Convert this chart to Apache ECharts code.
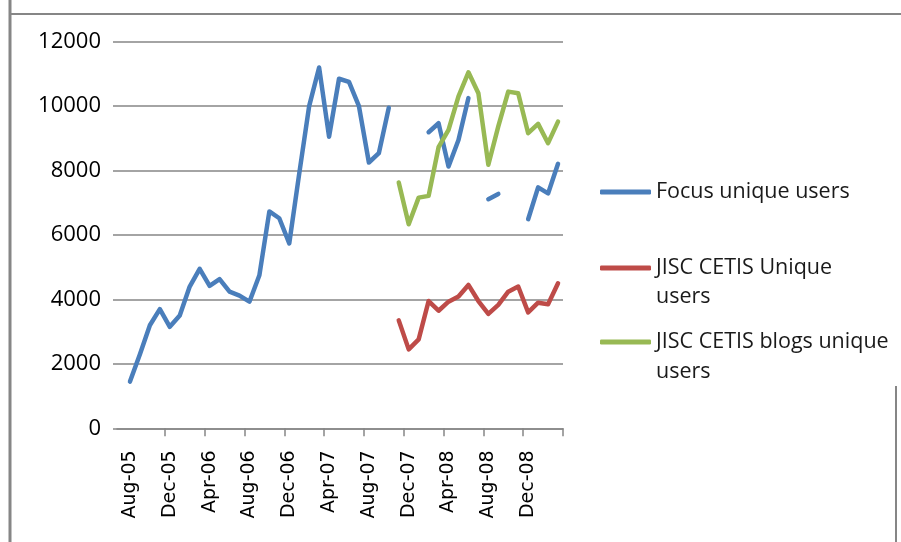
<!DOCTYPE html>
<html>
<head>
<meta charset="utf-8">
<script src="https://cdn.jsdelivr.net/npm/echarts@6/dist/echarts.min.js"></script>
<style>
html,body{margin:0;padding:0;background:#fff;}
#chart{width:901px;height:542px;}
</style>
</head>
<body>
<div id="chart"></div>
<script>
var months = ['Aug-05','Sep-05','Oct-05','Nov-05','Dec-05','Jan-06','Feb-06','Mar-06','Apr-06','May-06','Jun-06','Jul-06',
  'Aug-06','Sep-06','Oct-06','Nov-06','Dec-06','Jan-07','Feb-07','Mar-07','Apr-07','May-07','Jun-07','Jul-07',
  'Aug-07','Sep-07','Oct-07','Nov-07','Dec-07','Jan-08','Feb-08','Mar-08','Apr-08','May-08','Jun-08','Jul-08',
  'Aug-08','Sep-08','Oct-08','Nov-08','Dec-08','Jan-09','Feb-09','Mar-09'];

var focusUsers = [1450,2300,3200,3700,3150,3500,4400,4950,4420,4630,4240,4120,
  3930,4750,6730,6520,5740,7900,10000,11200,9050,10850,10750,10000,
  8250,8540,9950,null,null,null,9190,9470,8125,8950,10250,null,
  7110,7275,null,null,6490,7480,7290,8210];

var cetisUsers = [null,null,null,null,null,null,null,null,null,null,null,null,
  null,null,null,null,null,null,null,null,null,null,null,null,
  null,null,null,3350,2450,2760,3950,3650,3930,4090,4450,3950,
  3550,3830,4240,4400,3600,3900,3850,4500];

var blogUsers = [null,null,null,null,null,null,null,null,null,null,null,null,
  null,null,null,null,null,null,null,null,null,null,null,null,
  null,null,null,7630,6335,7160,7215,8725,9265,10300,11050,10400,
  8180,9370,10450,10400,9160,9450,8850,9520];

var yTicks = [0,2000,4000,6000,8000,10000,12000];

var seriesNames = ['Focus unique users','JISC CETIS Unique users','JISC CETIS blogs unique users'];
var legendLines = [['Focus unique users'],['JISC CETIS Unique','users'],['JISC CETIS blogs unique','users']];
var colors = ['#4A7EBB','#BE4B48','#98B954'];

var chart = echarts.init(document.getElementById('chart'), null, {renderer:'canvas'});
var gray = '#868686';
var legendFont = {fontFamily:'Open Sans', fontSize:21.5, color:'#1a1a1a'};

function legendFor(i, top, lh){
  var lines = legendLines[i];
  return {
    show:true, orient:'vertical', left:600, top:top, padding:0,
    data:[seriesNames[i]], icon:'roundRect', itemWidth:51, itemHeight:5, itemGap:0,
    selectedMode:false,
    formatter: function(){
      // empty first line keeps the first text line level with the line sample
      return lines.length > 1 ? ' \n' + lines.join('\n') : lines[0];
    },
    textStyle: Object.assign({}, legendFont, {lineHeight:lh})
  };
}

var option = {
  animation:false,
  backgroundColor:'#fff',
  color: colors,
  grid:[
    {left:117, right:338, top:41.7, bottom:113.7},
    {left:125, right:338, top:41.7, bottom:113.7}
  ],
  xAxis:[
    {gridIndex:0, type:'value', min:0, max:1, axisLine:{show:true, onZero:false, lineStyle:{color:gray, width:1.5}},
     axisTick:{show:false}, axisLabel:{show:false}, splitLine:{show:false}},
    {gridIndex:1, type:'category', data:months, boundaryGap:true,
     axisLine:{show:false},
     axisTick:{show:true, length:8, lineStyle:{color:gray, width:1.5},
       interval:function(idx){ return idx % 4 === 0 && idx !== 0; }},
     axisLabel:{show:true, rotate:90, interval:3, margin:22, fontFamily:'DejaVu Sans', fontSize:19, color:'#000'},
     splitLine:{show:false}}
  ],
  yAxis:[
    {gridIndex:0, type:'value', min:0, max:12000, interval:2000,
     axisLine:{show:false}, axisTick:{show:true, length:4, lineStyle:{color:gray, width:1.5}},
     axisLabel:{margin:16, fontFamily:'Open Sans', fontSize:22, color:'#000',
       formatter:function(v){ return String(v); }},
     splitLine:{show:true, lineStyle:{color:gray, width:1.5}}},
    {gridIndex:1, type:'value', min:0, max:12000, interval:2000, show:false, splitLine:{show:false}}
  ],
  legend:[
    legendFor(0, 177.5, 29),
    legendFor(1, 224.5, 29),
    legendFor(2, 297, 30)
  ],
  graphic:[
    {type:'line', shape:{x1:10, y1:0, x2:10, y2:542}, style:{stroke:gray, lineWidth:3}, silent:true},
    {type:'line', shape:{x1:10, y1:14, x2:901, y2:14}, style:{stroke:gray, lineWidth:2}, silent:true},
    {type:'line', shape:{x1:896, y1:386, x2:896, y2:542}, style:{stroke:gray, lineWidth:2}, silent:true}
  ],
  series:[
    {name:seriesNames[0], type:'line', xAxisIndex:1, yAxisIndex:1, data:focusUsers, showSymbol:false, connectNulls:false,
     lineStyle:{width:4.5, color:colors[0], cap:'round', join:'round'}, itemStyle:{color:colors[0]}},
    {name:seriesNames[1], type:'line', xAxisIndex:1, yAxisIndex:1, data:cetisUsers, showSymbol:false, connectNulls:false,
     lineStyle:{width:4.5, color:colors[1], cap:'round', join:'round'}, itemStyle:{color:colors[1]}},
    {name:seriesNames[2], type:'line', xAxisIndex:1, yAxisIndex:1, data:blogUsers, showSymbol:false, connectNulls:false,
     lineStyle:{width:4.5, color:colors[2], cap:'round', join:'round'}, itemStyle:{color:colors[2]}}
  ]
};
chart.setOption(option);
</script>
</body>
</html>
